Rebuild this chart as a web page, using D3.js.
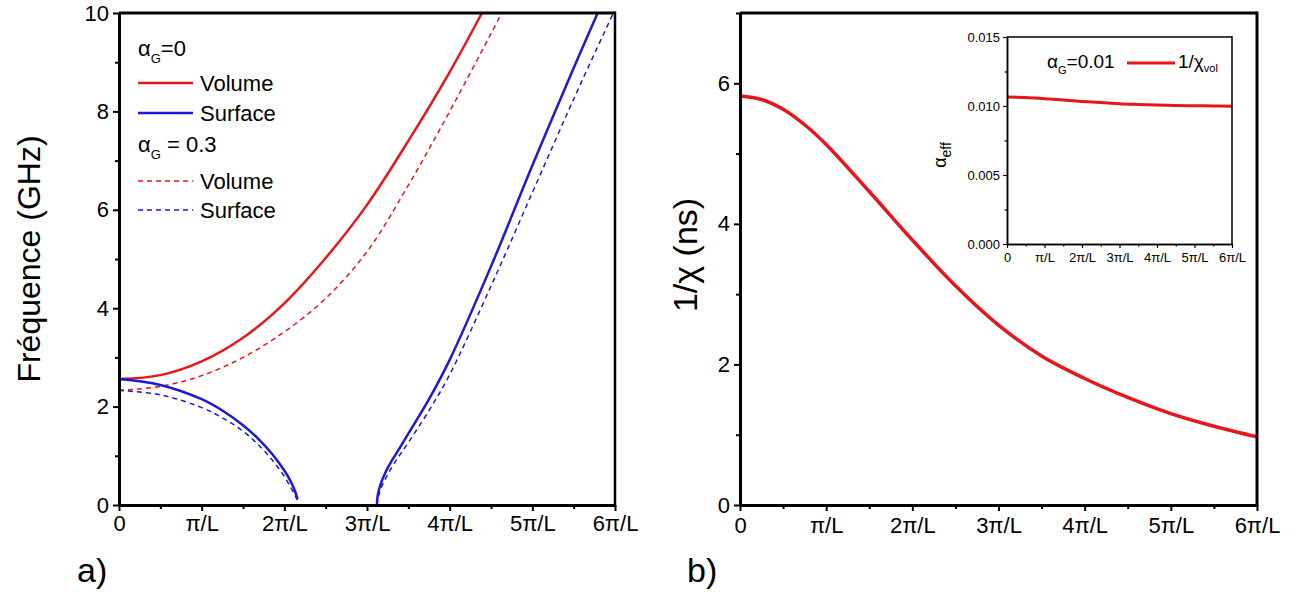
<!DOCTYPE html>
<html><head><meta charset="utf-8">
<script src="https://cdn.jsdelivr.net/npm/d3@7"></script>
<style>
body{margin:0;background:#fff}
svg{display:block}
text{font-family:"Liberation Sans",Arial,sans-serif;fill:#000}
</style>
</head><body>
<svg id="c" width="1306" height="596"></svg>
<script>
// ---------- data ----------
const xTickValues = [0, 1, 2, 3, 4, 5, 6];
const xTickLabels = ["0", "π/L", "2π/L", "3π/L", "4π/L", "5π/L", "6π/L"];
const xMinor = [0.5, 1.5, 2.5, 3.5, 4.5, 5.5];
const freqTicks = [0, 2, 4, 6, 8, 10];
const freqMinor = [1, 3, 5, 7, 9];
const chiTicks = [0, 2, 4, 6];
const chiMinor = [1, 3, 5, 7];
const alphaTicks = [0, 0.005, 0.010, 0.015];
const alphaTickLabels = ["0.000", "0.005", "0.010", "0.015"];
const alphaMinor = [0.0025, 0.0075, 0.0125];

// panel a) alpha_G = 0 (solid)
const volX0 = [0, 0.5, 1, 1.5, 2, 2.5, 3, 3.5, 4, 4.39];
const volF0 = [2.56, 2.64, 2.92, 3.40, 4.10, 5.02, 6.10, 7.40, 8.80, 10];
const surfAX0 = [0, 0.5, 1, 1.25, 1.5, 1.7, 1.86, 2.0, 2.07, 2.12, 2.16];
const surfAF0 = [2.56, 2.44, 2.15, 1.92, 1.62, 1.32, 1.02, 0.70, 0.50, 0.32, 0.12];
const surfBX0 = [3.12, 3.13, 3.16, 3.22, 3.3, 3.4, 3.5, 3.75, 4, 4.5, 5, 5.5, 5.79];
const surfBF0 = [0, 0.2, 0.4, 0.65, 0.9, 1.17, 1.45, 2.15, 2.95, 4.85, 6.9, 8.88, 10];
// panel a) alpha_G = 0.3 (dashed)
const volX3 = [0, 0.5, 1, 1.5, 2, 2.5, 3, 3.5, 4, 4.63];
const volF3 = [2.33, 2.41, 2.63, 3.00, 3.52, 4.20, 5.15, 6.50, 8.00, 10];
const surfAX3 = [0, 0.5, 1, 1.25, 1.5, 1.7, 1.86, 2.0, 2.09, 2.13, 2.155];
const surfAF3 = [2.33, 2.24, 1.98, 1.77, 1.50, 1.20, 0.90, 0.58, 0.32, 0.20, 0.10];
const surfBX3 = [3.12, 3.14, 3.18, 3.25, 3.35, 3.5, 3.75, 4, 4.5, 5, 5.5, 5.98];
const surfBF3 = [0, 0.18, 0.38, 0.62, 0.9, 1.27, 1.92, 2.65, 4.45, 6.35, 8.25, 10];

// panel b) 1/chi
const chiX = [0, 0.25, 0.5, 0.75, 1, 1.5, 2, 2.5, 3, 3.5, 4, 4.5, 5, 5.5, 6];
const chiY = [5.82, 5.77, 5.63, 5.41, 5.13, 4.46, 3.77, 3.12, 2.56, 2.12, 1.80, 1.53, 1.30, 1.12, 0.97];
// inset alpha_eff
const effX = [0, 0.5, 1, 1.5, 2, 2.5, 3, 3.5, 4, 4.5, 5, 5.5, 6];
const effY = [0.01065, 0.01062, 0.01053, 0.01043, 0.01033, 0.01025, 0.01016, 0.01011, 0.01007, 0.01004, 0.01002, 0.01000, 0.00998];

const RED = "#e8161b", BLUE = "#1c1ad2";
const svg = d3.select("#c");

function zip(a, b) { return a.map((v, i) => [v, b[i]]); }

function styleAxis(g, domainW, tickW, fs) {
  g.select(".domain").attr("stroke", "#000").attr("stroke-width", domainW);
  g.selectAll(".tick line").attr("stroke", "#000").attr("stroke-width", tickW);
  g.selectAll(".tick text").style("font-size", fs + "px").attr("fill", "#000");
}

function drawAxes(x, y, o) {
  const [x0, x1] = x.range(), [y0, y1] = y.range();
  const g = svg.append("g");
  g.append("g").attr("transform", `translate(0,${y0})`)
    .call(d3.axisBottom(x).tickValues(o.xMinor).tickSize(o.minor).tickSizeOuter(0).tickFormat(""))
    .call(s => styleAxis(s, o.dw, o.tw, o.fs));
  g.append("g").attr("transform", `translate(${x0},0)`)
    .call(d3.axisLeft(y).tickValues(o.yMinor).tickSize(o.minor).tickSizeOuter(0).tickFormat(""))
    .call(s => styleAxis(s, o.dw, o.tw, o.fs));
  g.append("g").attr("transform", `translate(0,${y0})`)
    .call(d3.axisBottom(x).tickValues(xTickValues).tickSize(o.major).tickSizeOuter(0)
      .tickPadding(o.xpad).tickFormat((d, i) => xTickLabels[i]))
    .call(s => styleAxis(s, o.dw, o.tw, o.fs));
  g.append("g").attr("transform", `translate(${x0},0)`)
    .call(d3.axisLeft(y).tickValues(o.yTicks).tickSize(o.major).tickSizeOuter(0)
      .tickPadding(o.ypad).tickFormat((d, i) => o.yLabels ? o.yLabels[i] : d))
    .call(s => styleAxis(s, o.dw, o.tw, o.fs));
  g.append("line").attr("x1", x0).attr("x2", x1).attr("y1", y1).attr("y2", y1)
    .attr("stroke", "#000").attr("stroke-width", o.dw);
  g.append("line").attr("x1", x1).attr("x2", x1).attr("y1", y1 - o.dw / 2).attr("y2", y0 + o.dw / 2)
    .attr("stroke", "#000").attr("stroke-width", o.fw || o.dw);
  return g;
}

function curve(x, y, pts, color, w, dash) {
  const line = d3.line().x(d => x(d[0])).y(d => y(d[1])).curve(d3.curveCatmullRom.alpha(0.5));
  const p = svg.append("path").attr("d", line(pts)).attr("fill", "none")
    .attr("stroke", color).attr("stroke-width", w).attr("stroke-linejoin", "round");
  if (dash) p.attr("stroke-dasharray", dash);
  return p;
}

// ---------- panel a ----------
const xA = d3.scaleLinear([0, 6], [119, 615]);
const yA = d3.scaleLinear([0, 10], [505, 13]);

curve(xA, yA, zip(volX3, volF3), RED, 1.5, "5,4");
curve(xA, yA, zip(surfAX3, surfAF3), BLUE, 1.5, "5,4");
curve(xA, yA, zip(surfBX3, surfBF3), BLUE, 1.5, "5,4");
curve(xA, yA, zip(volX0, volF0), RED, 2.5);
curve(xA, yA, zip(surfAX0, surfAF0), BLUE, 2.5);
curve(xA, yA, zip(surfBX0, surfBF0), BLUE, 2.5);

drawAxes(xA, yA, {xMinor, yMinor: freqMinor, yTicks: freqTicks, major: 6, minor: 4,
  dw: 3, tw: 2, fs: 22, xpad: 4, ypad: 4, fw: 2.5});

svg.append("text").attr("transform", "translate(40,259) rotate(-90)")
  .attr("text-anchor", "middle").style("font-size", "32px").text("Fréquence (GHz)");
svg.append("text").attr("x", 77).attr("y", 582).style("font-size", "34px").text("a)");

function alphaLabel(x, y, rest, fs, sfs) {
  const t = svg.append("text").attr("x", x).attr("y", y).style("font-size", fs + "px");
  t.append("tspan").text("α");
  t.append("tspan").attr("dy", fs * 0.3).style("font-size", sfs + "px").text("G");
  t.append("tspan").attr("dy", -fs * 0.3).text(rest);
  return t;
}
const legA = [
  {label: "Volume", color: RED, dash: null, y: 83},
  {label: "Surface", color: BLUE, dash: null, y: 113},
  {label: "Volume", color: RED, dash: "5,4", y: 181},
  {label: "Surface", color: BLUE, dash: "5,4", y: 210}
];
alphaLabel(138, 56, "=0", 22, 13);
alphaLabel(138, 152, " = 0.3", 22, 13);
legA.forEach(d => {
  const l = svg.append("line").attr("x1", 138).attr("x2", 193).attr("y1", d.y).attr("y2", d.y)
    .attr("stroke", d.color).attr("stroke-width", d.dash ? 1.5 : 2.5);
  if (d.dash) l.attr("stroke-dasharray", d.dash);
  svg.append("text").attr("x", 200).attr("y", d.y + 8).style("font-size", "22px").text(d.label);
});

// ---------- panel b ----------
const xB = d3.scaleLinear([0, 6], [740, 1257]);
const yB = d3.scaleLinear([0, 7], [505, 13]);
curve(xB, yB, zip(chiX, chiY), RED, 3.5);
drawAxes(xB, yB, {xMinor, yMinor: chiMinor, yTicks: chiTicks, major: 6, minor: 4,
  dw: 3, tw: 2, fs: 22, xpad: 6, ypad: 4, fw: 3});
svg.append("text").attr("transform", "translate(697,255) rotate(-90)")
  .attr("text-anchor", "middle").style("font-size", "34px").text("1/χ (ns)");
svg.append("text").attr("x", 687).attr("y", 582).style("font-size", "34px").text("b)");

// ---------- inset ----------
const xI = d3.scaleLinear([0, 6], [1007, 1232]);
const yI = d3.scaleLinear([0, 0.015], [244, 37]);
curve(xI, yI, zip(effX, effY), RED, 3);
drawAxes(xI, yI, {xMinor, yMinor: alphaMinor, yTicks: alphaTicks, yLabels: alphaTickLabels,
  major: 4, minor: 2.5, dw: 1.5, tw: 1.2, fs: 13, xpad: 5, ypad: 3, fw: 1.5});
const ae = svg.append("text").attr("transform", "translate(946,155) rotate(-90)")
  .attr("text-anchor", "middle").style("font-size", "18px");
ae.append("tspan").text("α");
ae.append("tspan").attr("dy", 5).style("font-size", "14px").text("eff");

alphaLabel(1047, 68, "=0.01", 19, 11);
svg.append("line").attr("x1", 1127).attr("x2", 1175).attr("y1", 63).attr("y2", 63)
  .attr("stroke", RED).attr("stroke-width", 3);
const lv = svg.append("text").attr("x", 1178).attr("y", 68).style("font-size", "19px");
lv.append("tspan").text("1/χ");
lv.append("tspan").attr("dy", 4).style("font-size", "11px").text("vol");
</script>
</body></html>
